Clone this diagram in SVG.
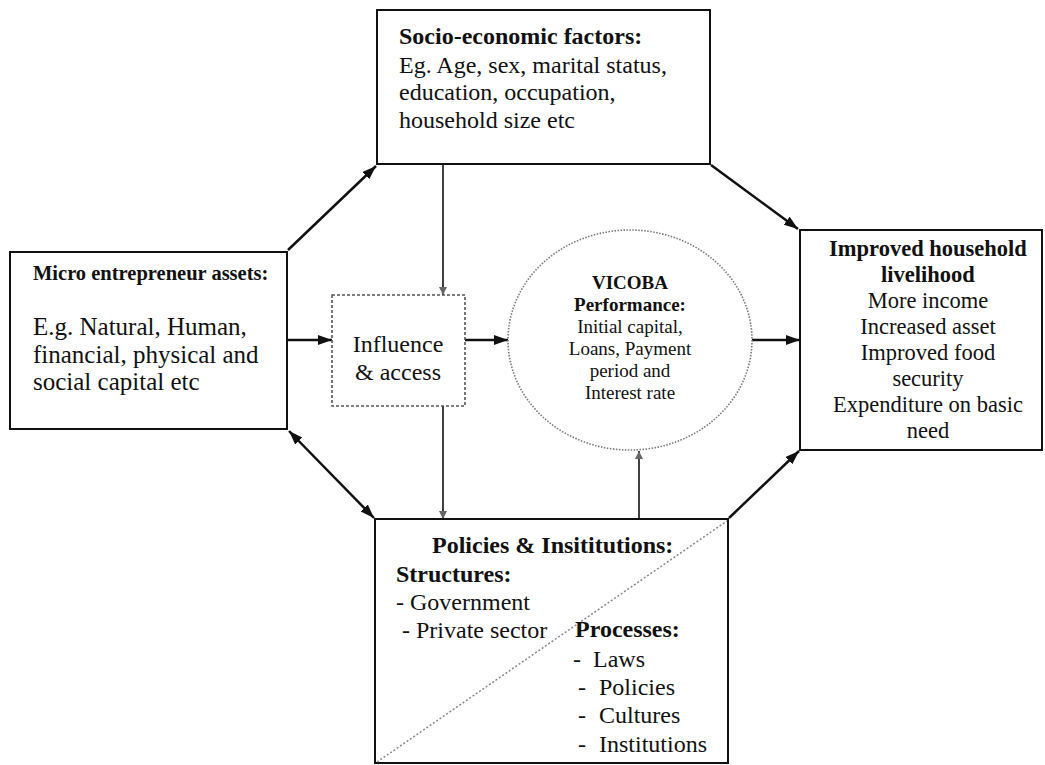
<svg xmlns="http://www.w3.org/2000/svg" width="1045" height="765" viewBox="0 0 1045 765">
<style>
.box{fill:#fff;stroke:#111;stroke-width:2}
.t{font-family:"Liberation Serif","Times New Roman",serif;fill:#111}
.b{font-weight:bold}
.c{text-anchor:middle}
.con{stroke:#111;stroke-width:2.5;fill:none}
.thin{stroke:#111;stroke-width:1.6;fill:none}
</style>
<defs>
<marker id="arr" markerUnits="userSpaceOnUse" markerWidth="15" markerHeight="11" refX="14" refY="5" orient="auto-start-reverse" viewBox="0 0 15 11">
<path d="M0,0 L14,5 L0,10 z" fill="#111"/>
</marker>
<marker id="sm" markerUnits="userSpaceOnUse" markerWidth="9" markerHeight="9" refX="8" refY="4" orient="auto" viewBox="0 0 9 9">
<path d="M0,0 L8,4 L0,8 z" fill="#666"/>
</marker>
</defs>
<rect width="1045" height="765" fill="#fff"/>

<g id="connectors">
<line class="con" x1="288" y1="250" x2="376" y2="166" marker-end="url(#arr)"/>
<line class="con" x1="711" y1="165" x2="798" y2="229" marker-end="url(#arr)"/>
<line class="con" x1="289" y1="431" x2="374" y2="518" marker-start="url(#arr)" marker-end="url(#arr)"/>
<line class="con" x1="729" y1="518" x2="799" y2="451" marker-end="url(#arr)"/>
<line class="thin" x1="443" y1="164" x2="443" y2="295" marker-end="url(#sm)"/>
<line class="thin" x1="443" y1="406" x2="443" y2="519" marker-end="url(#sm)"/>
<line class="thin" x1="639" y1="519" x2="639" y2="451" marker-end="url(#sm)"/>
<line class="con" x1="287" y1="340" x2="332" y2="340" marker-end="url(#arr)"/>
<line class="con" x1="465" y1="340" x2="508" y2="340" marker-end="url(#arr)"/>
<line class="con" x1="752" y1="340" x2="800" y2="340" marker-end="url(#arr)"/>
</g>

<g id="socio">
<rect class="box" x="377" y="10" width="333" height="154"/>
<text class="t b" x="399" y="44" font-size="24">Socio-economic factors:</text>
<text class="t" x="399" y="73" font-size="24">Eg. Age, sex, marital status,</text>
<text class="t" x="399" y="100" font-size="24">education, occupation,</text>
<text class="t" x="399" y="128" font-size="24">household size etc</text>
</g>

<g id="assets">
<rect class="box" x="10" y="252" width="277" height="177"/>
<text class="t b" x="33" y="280" font-size="20.5">Micro entrepreneur assets:</text>
<text class="t" x="33" y="335" font-size="25">E.g. Natural, Human,</text>
<text class="t" x="33" y="363" font-size="25">financial, physical and</text>
<text class="t" x="33" y="390" font-size="25">social capital etc</text>
</g>

<g id="influence">
<rect x="332" y="295" width="133" height="111" fill="#fff" stroke="#555" stroke-width="1.6" stroke-dasharray="3,2"/>
<text class="t c" x="398" y="352" font-size="24">Influence</text>
<text class="t c" x="398" y="380" font-size="24">&amp; access</text>
</g>

<g id="vicoba">
<ellipse cx="630" cy="340" rx="122" ry="110" fill="#fff" stroke="#777" stroke-width="1.6" stroke-dasharray="1.5,1.5"/>
<text class="t b c" x="630" y="289" font-size="19">VICOBA</text>
<text class="t b c" x="630" y="311" font-size="19">Performance:</text>
<text class="t c" x="630" y="333" font-size="19">Initial capital,</text>
<text class="t c" x="630" y="355" font-size="19">Loans, Payment</text>
<text class="t c" x="630" y="377" font-size="19">period and</text>
<text class="t c" x="630" y="399" font-size="19">Interest rate</text>
</g>

<g id="livelihood">
<rect class="box" x="800" y="230" width="242" height="220"/>
<text class="t b c" x="928" y="256" font-size="22.5">Improved household</text>
<text class="t b c" x="928" y="282" font-size="22.5">livelihood</text>
<text class="t c" x="928" y="308" font-size="22.5">More income</text>
<text class="t c" x="928" y="334" font-size="22.5">Increased asset</text>
<text class="t c" x="928" y="360" font-size="22.5">Improved food</text>
<text class="t c" x="928" y="386" font-size="22.5">security</text>
<text class="t c" x="928" y="412" font-size="22.5">Expenditure on basic</text>
<text class="t c" x="928" y="438" font-size="22.5">need</text>
</g>

<g id="policies">
<rect class="box" x="375" y="519" width="353" height="244"/>
<line x1="377" y1="762" x2="727" y2="521" stroke="#888" stroke-width="1.5" stroke-dasharray="2,2"/>
<text class="t b" x="432" y="553" font-size="24">Policies &amp; Insititutions:</text>
<text class="t b" x="396" y="582" font-size="24">Structures:</text>
<text class="t" x="396" y="610" font-size="24">- Government</text>
<text class="t" x="402" y="638" font-size="24">- Private sector</text>
<text class="t b" x="575" y="637" font-size="24">Processes:</text>
<text class="t" x="573" y="667" font-size="24">-<tspan x="593">Laws</tspan></text>
<text class="t" x="578" y="695" font-size="24">-<tspan x="599">Policies</tspan></text>
<text class="t" x="578" y="723" font-size="24">-<tspan x="599">Cultures</tspan></text>
<text class="t" x="578" y="752" font-size="24">-<tspan x="599">Institutions</tspan></text>
</g>
</svg>
